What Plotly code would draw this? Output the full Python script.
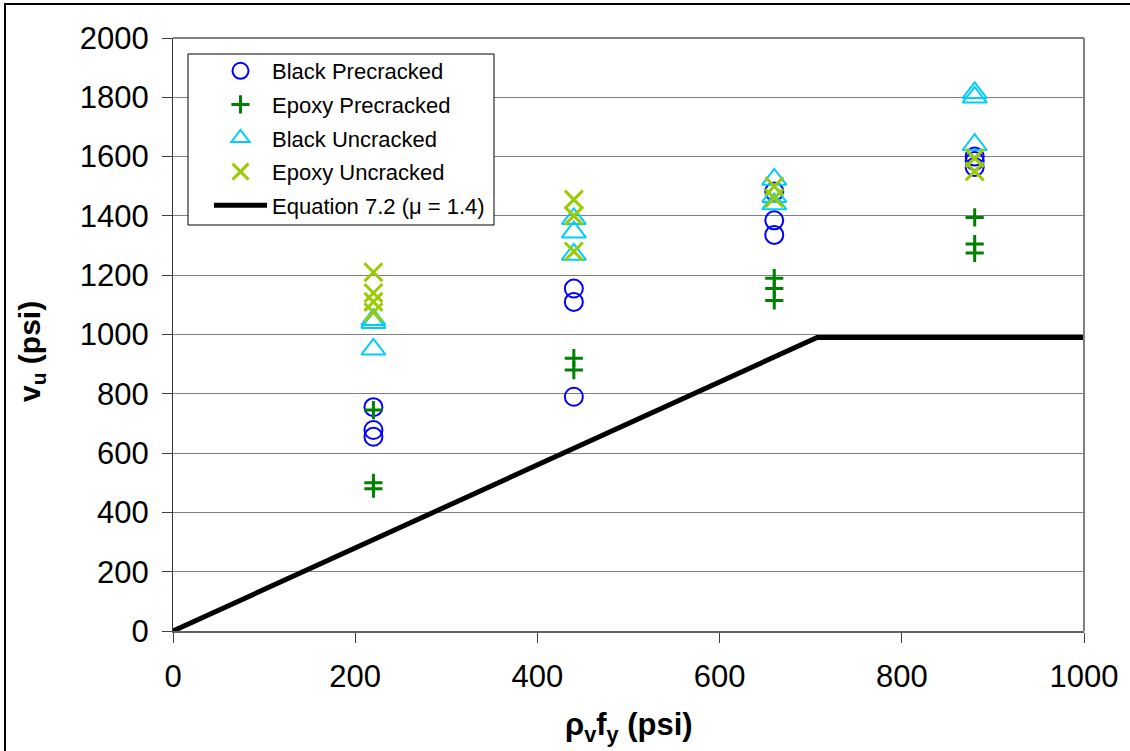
import plotly.graph_objects as go

# Shear reinforcement parameter rho_v * f_y (psi) for each test group
x_black_pre = [220, 220, 220, 440, 440, 440, 660, 660, 660, 880, 880, 880]
v_black_pre = [755, 678, 655, 1155, 1110, 790, 1482, 1385, 1336, 1600, 1585, 1565]

x_epoxy_pre = [220, 220, 220, 440, 440, 660, 660, 660, 880, 880, 880]
v_epoxy_pre = [745, 500, 480, 920, 880, 1190, 1155, 1115, 1395, 1305, 1275]

x_black_unc = [220, 220, 220, 440, 440, 440, 660, 660, 660, 880, 880, 880]
v_black_unc = [1050, 1040, 950, 1390, 1345, 1270, 1523, 1465, 1440, 1815, 1800, 1640]

x_epoxy_unc = [220, 220, 220, 220, 440, 440, 440, 660, 660, 880, 880]
v_epoxy_unc = [1210, 1140, 1110, 1075, 1455, 1400, 1280, 1500, 1460, 1595, 1550]

# Equation 7.2: v = mu * rho_v * f_y, capped
x_eq = [0, 707, 1000]
v_eq = [0, 990, 990]

x_ticks = [0, 200, 400, 600, 800, 1000]
y_ticks = [0, 200, 400, 600, 800, 1000, 1200, 1400, 1600, 1800, 2000]

FONT = "Liberation Sans, Arial, sans-serif"

fig = go.Figure()

fig.add_trace(go.Scatter(
    x=x_black_pre, y=v_black_pre, mode="markers", name="Black Precracked",
    legendgroup="a",
    marker=dict(symbol="circle-open", size=18, color="#0000FF",
                line=dict(width=2, color="#0000FF")),
))
fig.add_trace(go.Scatter(
    x=x_epoxy_pre, y=v_epoxy_pre, mode="markers", name="Epoxy Precracked",
    legendgroup="b",
    marker=dict(symbol="cross-thin-open", size=13, color="#008000",
                line=dict(width=3, color="#008000")),
))
fig.add_trace(go.Scatter(
    x=x_black_unc, y=v_black_unc, mode="markers", name="Black Uncracked",
    legendgroup="c",
    marker=dict(symbol="triangle-up-open", size=21, color="#00CCFF",
                line=dict(width=2, color="#00CCFF")),
))
fig.add_trace(go.Scatter(
    x=x_epoxy_unc, y=v_epoxy_unc, mode="markers", name="Epoxy Uncracked",
    legendgroup="d",
    marker=dict(symbol="x-thin-open", size=18, color="#99CC00",
                line=dict(width=3, color="#99CC00")),
))
fig.add_trace(go.Scatter(
    x=x_eq, y=v_eq, mode="lines", name="Equation 7.2 (\u03bc = 1.4)",
    legendgroup="e",
    line=dict(color="#000000", width=5),
))

L, R, T, B = 173, 46, 38, 120
W, H = 1130, 751
pw, ph = W - L - R, H - T - B


def px_x(p):
    return (p - L) / pw


def px_y(p):
    return (H - B - p) / ph


fig.update_layout(
    width=W, height=H,
    margin=dict(l=L, r=R, t=T, b=B, autoexpand=False),
    paper_bgcolor="white", plot_bgcolor="white",
    font=dict(family=FONT, color="black"),
    showlegend=True,
    legend=dict(
        x=px_x(209), y=px_y(50), xanchor="left", yanchor="top",
        bgcolor="rgba(0,0,0,0)", borderwidth=0,
        font=dict(size=22, family=FONT, color="black"),
        tracegroupgap=2, itemwidth=53,
    ),
    xaxis=dict(
        range=[0, 1000], tickvals=x_ticks, showgrid=False, zeroline=False,
        showline=True, linecolor="#606060", linewidth=2,
        ticks="outside", ticklen=10, tickcolor="#404040", tickwidth=1,
        tickfont=dict(size=31, family=FONT, color="black"),
        ticklabelstandoff=7,
    ),
    yaxis=dict(
        range=[0, 2000], tickvals=y_ticks, showgrid=True, gridcolor="#808080",
        gridwidth=1, zeroline=False,
        showline=True, linecolor="#303030", linewidth=1,
        ticks="outside", ticklen=10, tickcolor="#404040", tickwidth=1,
        tickfont=dict(size=31, family=FONT, color="black"),
        ticklabelstandoff=7,
    ),
    shapes=[
        # plot-area frame (top and right)
        dict(type="line", xref="paper", yref="paper", x0=0, x1=1, y0=1, y1=1,
             line=dict(color="#808080", width=2)),
        dict(type="line", xref="paper", yref="paper", x0=1, x1=1, y0=0, y1=1,
             line=dict(color="#808080", width=2)),
        # legend box
        dict(type="rect", xref="paper", yref="paper",
             x0=px_x(188), x1=px_x(494), y0=px_y(225), y1=px_y(54),
             fillcolor="white", line=dict(color="black", width=1), layer="above"),
        # outer chart border
        dict(type="rect", xref="paper", yref="paper",
             x0=px_x(5), x1=px_x(1140), y0=px_y(760), y1=px_y(4),
             line=dict(color="black", width=2), layer="below"),
    ],
    annotations=[
        dict(text="<b>\u03c1<sub>v</sub>f<sub>y</sub> (psi)</b>", xref="paper", yref="paper",
             x=0.5, y=px_y(727), xanchor="center", yanchor="middle",
             showarrow=False, font=dict(size=31, family=FONT, color="black")),
        dict(text="<b>v<sub>u</sub> (psi)</b>", xref="paper", yref="paper",
             x=px_x(31), y=px_y(352), xanchor="center", yanchor="middle",
             textangle=-90, showarrow=False,
             font=dict(size=30, family=FONT, color="black")),
    ],
)

fig.write_html("out.html")
